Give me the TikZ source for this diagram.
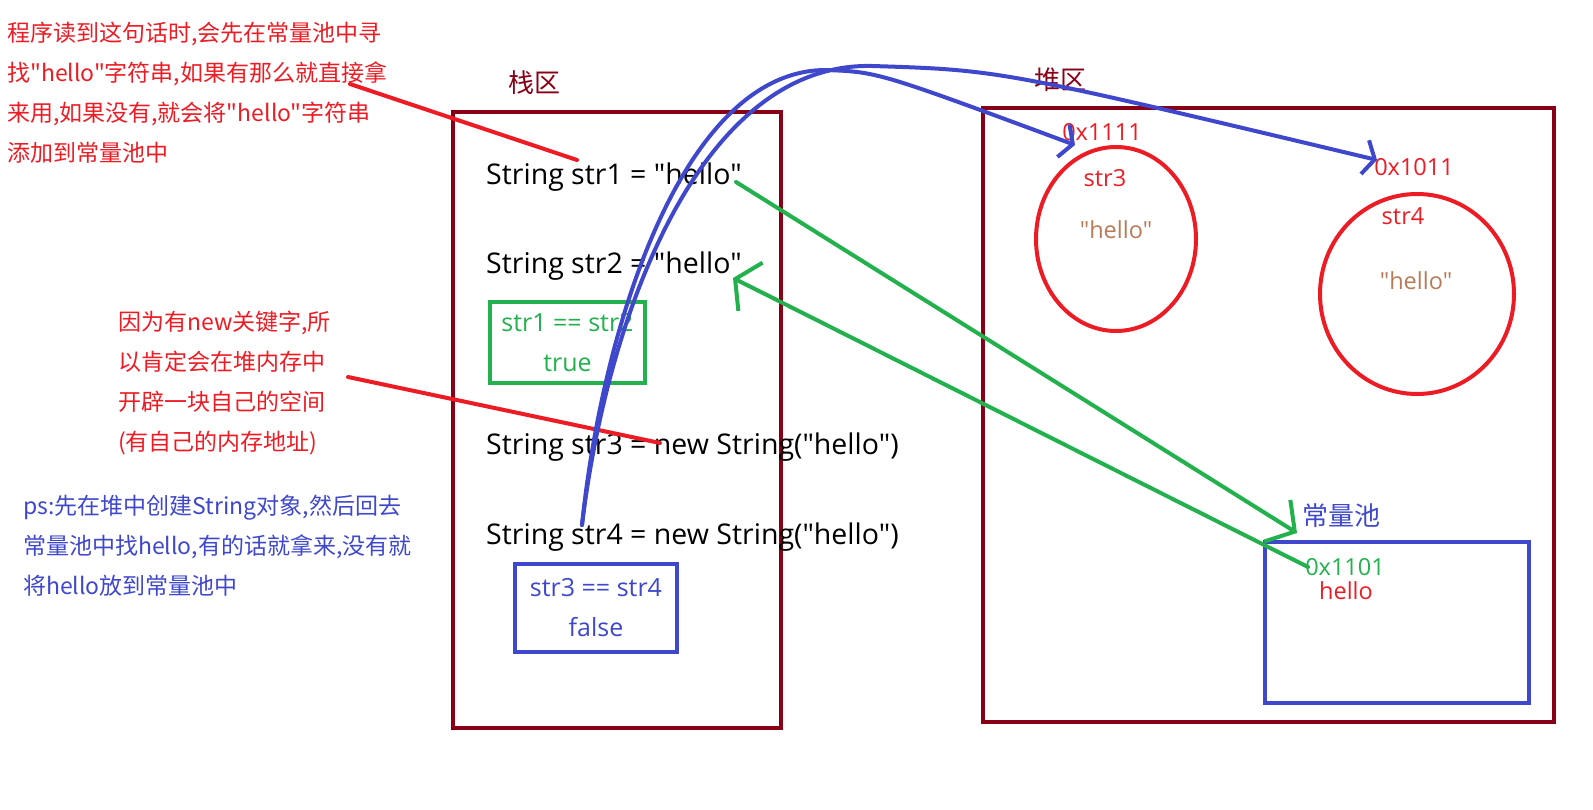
\documentclass[tikz,border=0pt]{standalone}
\usepackage{fontspec}
\setmainfont{Open Sans}[Ligatures=TeXOff]
\newfontfamily\cjk{Noto Sans CJK SC}
\usetikzlibrary{positioning,shapes.geometric,arrows.meta}

\definecolor{paintdark}{RGB}{136,0,21}
\definecolor{paintred}{RGB}{237,28,36}
\definecolor{paintgreen}{RGB}{34,177,76}
\definecolor{paintblue}{RGB}{63,72,204}
\definecolor{paintbrown}{RGB}{185,122,87}

\tikzset{
  region/.style={draw=paintdark,line width=4pt,inner sep=0pt},
  title/.style={inner sep=0pt,font=\cjk\fontsize{26}{30}\selectfont},
  code/.style={anchor=west,inner sep=0pt,font=\fontsize{28.5}{34}\selectfont},
  note/.style={anchor=west,inner sep=0pt,align=left,font=\cjk\fontsize{23}{40}\selectfont},
  result/.style={line width=4pt,inner sep=0pt,align=center,font=\fontsize{25}{40}\selectfont},
  obj/.style={ellipse,draw=paintred,line width=4pt,inner sep=0pt},
  small/.style={inner sep=0pt,font=\fontsize{23.5}{26}\selectfont},
  pen/.style={line width=4pt,line cap=round},
}

\begin{document}
\begin{tikzpicture}[x=1pt,y=-1pt]
\useasboundingbox (0,0) rectangle (1593,810);

% the two memory areas
\node[region,minimum width=328pt,minimum height=616pt] (stack) at (617,420) {};
\node[region,minimum width=571pt,minimum height=614pt] (heap) at (1268.5,415) {};
\node[title,text=paintdark] (stacklbl) at (534,83) {栈区};
\node[title,text=paintdark] (heaplbl) at (1060,80) {堆区};

% code in the stack
\node[code] (str1) at (486,177) {String str1 = "hello"};
\node[code] (str2) at (486,266) {String str2 = "hello"};
\node[code] (str3) at (486,447) {String str3 = new String("hello")};
\node[code] (str4) at (486,537) {String str4 = new String("hello")};
\node[result,draw=paintgreen,text=paintgreen,minimum width=155pt,minimum height=81pt] (eq12) at (567.5,342.5) {str1 == str2\\true};
\node[result,draw=paintblue,text=paintblue,minimum width=162pt,minimum height=88pt] (eq34) at (596,608) {str3 == str4\\false};

% objects in the heap
\node[obj,minimum width=160pt,minimum height=184pt] (obj3) at (1116,239) {};
\node[obj,minimum width=194pt,minimum height=200pt] (obj4) at (1417,294) {};
\node[small,text=paintred] (addr3) at (1102,132) {0x1111};
\node[small,text=paintred] (name3) at (1105,178) {str3};
\node[small,text=paintbrown] (val3) at (1116,230) {"hello"};
\node[small,text=paintred] (addr4) at (1414,167) {0x1011};
\node[small,text=paintred] (name4) at (1403,216) {str4};
\node[small,text=paintbrown] (val4) at (1416,281) {"hello"};

% string pool
\node[draw=paintblue,line width=4.5pt,inner sep=0pt,minimum width=264pt,minimum height=161pt] (pool) at (1397,622.5) {};
\node[title,text=paintblue] (poollbl) at (1341,516) {常量池};
\node[small,text=paintgreen] (addrp) at (1345,567) {0x1101};
\node[small,text=paintred] (valp) at (1346,591) {hello};

% notes
\node[note,text=paintred] (note1) at (7,93) {程序读到这句话时,会先在常量池中寻\\找"hello"字符串,如果有那么就直接拿\\来用,如果没有,就会将"hello"字符串\\添加到常量池中};
\node[note,text=paintred] (note2) at (118,383) {因为有new关键字,所\\以肯定会在堆内存中\\开辟一块自己的空间\\(有自己的内存地址)};
\node[note,text=paintblue] (note3) at (23,546) {ps:先在堆中创建String对象,然后回去\\常量池中找hello,有的话就拿来,没有就\\将hello放到常量池中};

% connectors
\coordinate (n1) at (350,84);
\coordinate (h1) at (577,160);
\coordinate (n2) at (348,377);
\coordinate (h3) at (660,443);
\draw[pen,paintred] (n1) -- (h1);
\draw[pen,paintred] (n2) -- (h3);

\coordinate (s4) at (582,525);
\coordinate (top3) at (826,70);
\coordinate (top4) at (872,66);
\coordinate (a3) at (1075,145);
\coordinate (a4) at (1377,160);
\draw[pen,paintblue,-{Straight Barb[angle=120:20pt]}] (s4) .. controls (602,330) and (682,70) .. (top3) .. controls (878,72) .. (a3);
\draw[pen,paintblue,-{Straight Barb[angle=120:20pt]}] (s4) .. controls (608,310) and (702,62) .. (top4) .. controls (1000,70) .. (a4);

\coordinate (g1) at (736,182);
\coordinate (p1) at (1297,533);
\coordinate (p2) at (1308,567);
\coordinate (g2) at (733,278);
\draw[pen,paintgreen,-{Straight Barb[angle=100:32pt]}] (g1) -- (p1);
\draw[pen,paintgreen,-{Straight Barb[angle=115:32pt]}] (p2) -- (g2);
\end{tikzpicture}
\end{document}
